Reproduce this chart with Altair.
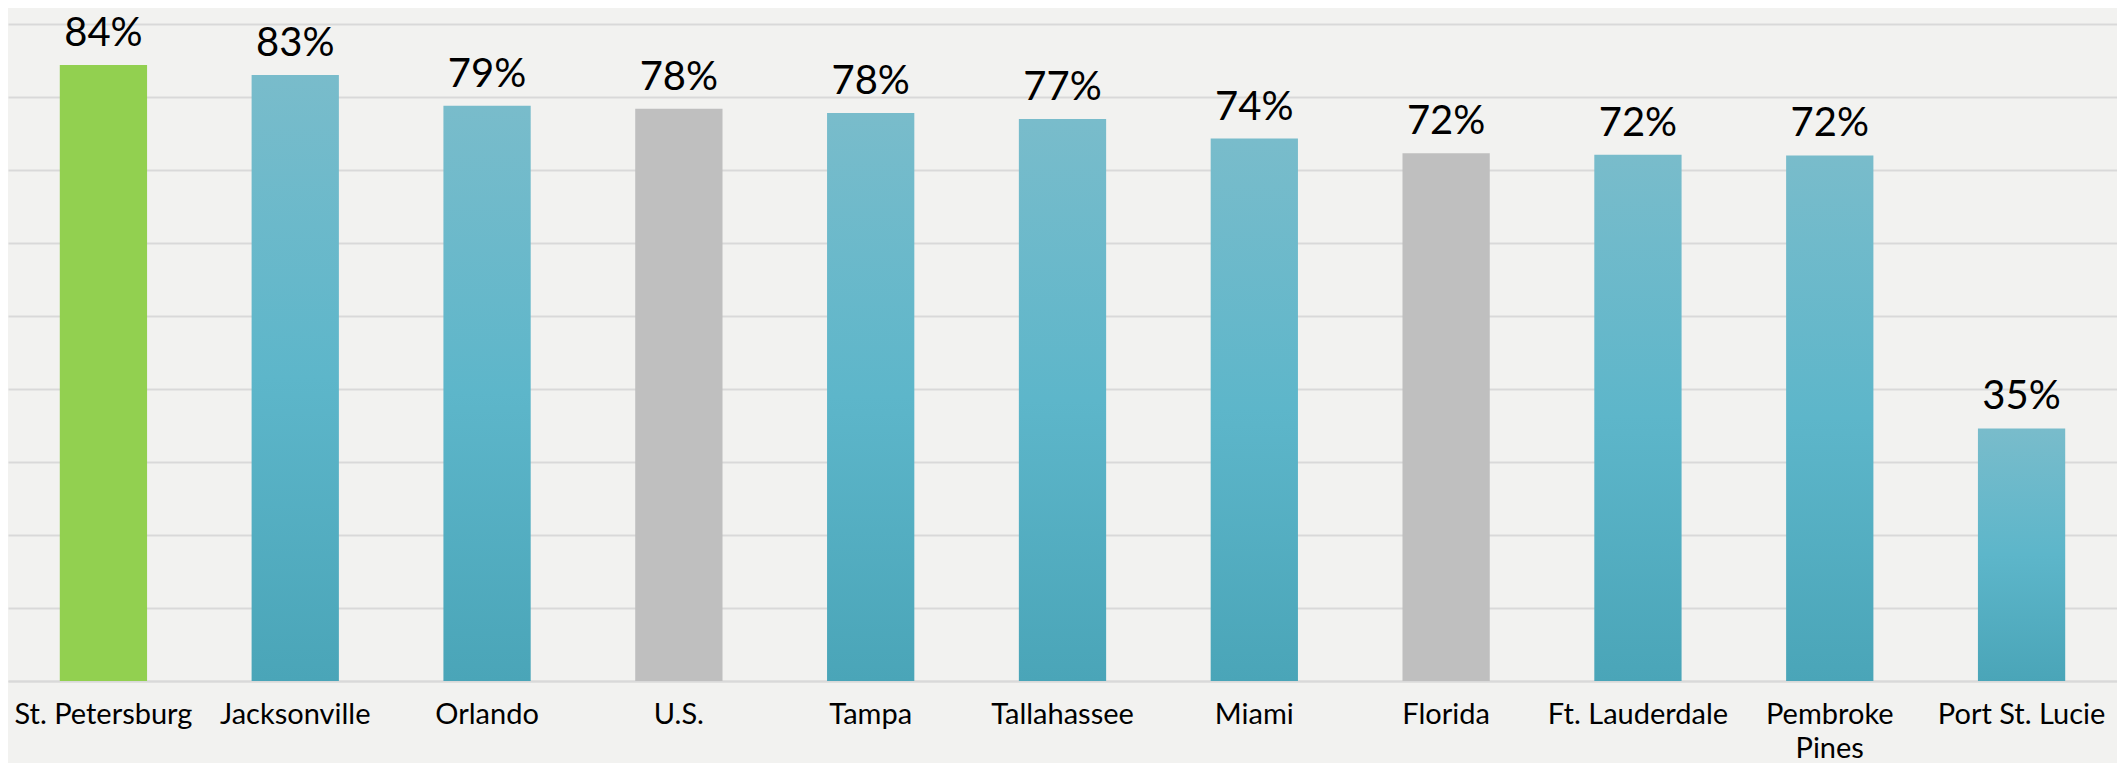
import altair as alt
import pandas as pd

categories = ["St. Petersburg", "Jacksonville", "Orlando", "U.S.", "Tampa", "Tallahassee",
              "Miami", "Florida", "Ft. Lauderdale", "Pembroke Pines", "Port St. Lucie"]
values = [84.4, 83.0, 78.8, 78.4, 77.8, 77.0, 74.3, 72.3, 72.1, 72.0, 34.6]
labels = ["84%", "83%", "79%", "78%", "78%", "77%", "74%", "72%", "72%", "72%", "35%"]
kinds = ["focus", "city", "city", "benchmark", "city", "city", "city", "benchmark", "city", "city", "city"]

df = pd.DataFrame({"cat": categories, "value": values, "label": labels, "kind": kinds})

FONT = "Lato"

x_enc = alt.X("cat:N", sort=categories,
              scale=alt.Scale(paddingInner=0.545, paddingOuter=0.27),
              axis=alt.Axis(title=None, labelAngle=0, labelFont=FONT, labelFontSize=29,
                            labelColor="#000000", labelPadding=19, ticks=False, labelLimit=0,
                            domainColor="#d9d9d9", domainWidth=2, labelLineHeight=34,
                            labelExpr="datum.value == 'Pembroke Pines' ? ['Pembroke', 'Pines'] : datum.value"))
y_enc = alt.Y("value:Q", scale=alt.Scale(domain=[0, 90], nice=False),
              axis=alt.Axis(title=None, labels=False, ticks=False, domain=False,
                            values=[0, 10, 20, 30, 40, 50, 60, 70, 80, 90],
                            gridColor="#d9d9d9", gridWidth=2))

base = alt.Chart(df)

blue = base.transform_filter("datum.kind == 'city'").mark_bar(
    color=alt.Gradient(gradient="linear", x1=0, x2=0, y1=0, y2=1,
                       stops=[alt.GradientStop(offset=0, color="#79bccb"),
                              alt.GradientStop(offset=0.5, color="#5db6ca"),
                              alt.GradientStop(offset=1, color="#4aa5b8")])
).encode(x=x_enc, y=y_enc)

others = base.transform_filter("datum.kind != 'city'").mark_bar().encode(
    x=x_enc, y=y_enc,
    color=alt.Color("kind:N", scale=alt.Scale(domain=["focus", "benchmark"],
                                              range=["#92d050", "#bfbfbf"]), legend=None))

text = base.mark_text(font=FONT, fontSize=40, color="#000000", baseline="alphabetic",
                      dy=-19).encode(x=alt.X("cat:N", sort=categories), y="value:Q", text="label:N")

chart = alt.layer(blue, others, text).properties(
    width=2109, height=657,
    padding={"top": 5, "left": 0, "right": 0, "bottom": 0},
    background="#f2f2f0"
).configure_view(stroke=None)

chart.save("out.html", embed_options={"renderer": "svg", "actions": False})
